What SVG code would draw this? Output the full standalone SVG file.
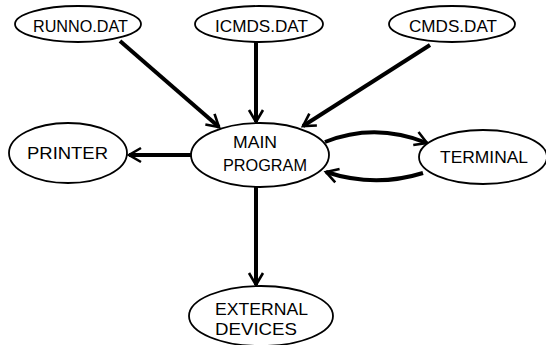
<svg xmlns="http://www.w3.org/2000/svg" width="546" height="345" viewBox="0 0 546 345">
  <style>
    .node ellipse { fill: #ffffff; stroke: #000000; stroke-width: 1.8; }
    .node text { font-family: "Liberation Sans", "DejaVu Sans", sans-serif; font-size: 16.5px; fill: #000000; }
    .edge { fill: none; stroke: #000000; stroke-width: 4; stroke-linecap: butt; }
  </style>
  <defs>
    <marker id="vee" markerUnits="userSpaceOnUse" markerWidth="20" markerHeight="20" viewBox="-14 -10 16 20" refX="0" refY="0" orient="auto">
      <path d="M -12,-7 L 0,0 L -12,7" fill="none" stroke="#000000" stroke-width="2.6" stroke-linejoin="miter"/>
    </marker>
  </defs>

  <!-- connectors -->
  <g id="connectors">
    <line class="edge" x1="120" y1="41" x2="219" y2="127" marker-end="url(#vee)"/>
    <line class="edge" x1="256" y1="42" x2="256" y2="122" marker-end="url(#vee)"/>
    <line class="edge" x1="430" y1="45" x2="303" y2="126" marker-end="url(#vee)"/>
    <line class="edge" x1="191" y1="155" x2="129" y2="155" marker-end="url(#vee)"/>
    <path class="edge" d="M 325,142 Q 375,122 427,143" marker-end="url(#vee)"/>
    <path class="edge" d="M 423,173 Q 375,188 326,172" marker-end="url(#vee)"/>
    <line class="edge" x1="256" y1="187" x2="256" y2="285" marker-end="url(#vee)"/>
  </g>

  <!-- nodes -->
  <g id="runno" class="node">
    <ellipse cx="78" cy="24" rx="63" ry="18"/>
    <text x="33" y="32" textLength="95" lengthAdjust="spacingAndGlyphs">RUNNO.DAT</text>
  </g>
  <g id="icmds" class="node">
    <ellipse cx="259" cy="24" rx="64" ry="18"/>
    <text x="215" y="32" textLength="93" lengthAdjust="spacingAndGlyphs">ICMDS.DAT</text>
  </g>
  <g id="cmds" class="node">
    <ellipse cx="452" cy="24" rx="63" ry="18"/>
    <text x="409" y="32" textLength="88" lengthAdjust="spacingAndGlyphs">CMDS.DAT</text>
  </g>
  <g id="printer" class="node">
    <ellipse cx="68" cy="153" rx="59" ry="30"/>
    <text x="27" y="159" textLength="81" lengthAdjust="spacingAndGlyphs">PRINTER</text>
  </g>
  <g id="main" class="node">
    <ellipse cx="260" cy="155" rx="69" ry="32"/>
    <text x="233" y="148" textLength="44" lengthAdjust="spacingAndGlyphs">MAIN</text>
    <text x="223" y="171" textLength="84" lengthAdjust="spacingAndGlyphs">PROGRAM</text>
  </g>
  <g id="terminal" class="node">
    <ellipse cx="483" cy="157" rx="64" ry="27"/>
    <text x="440" y="163" textLength="88" lengthAdjust="spacingAndGlyphs">TERMINAL</text>
  </g>
  <g id="external" class="node">
    <ellipse cx="261" cy="316" rx="72" ry="30"/>
    <text x="215" y="315" textLength="93" lengthAdjust="spacingAndGlyphs">EXTERNAL</text>
    <text x="215" y="335" textLength="82" lengthAdjust="spacingAndGlyphs">DEVICES</text>
  </g>
</svg>
